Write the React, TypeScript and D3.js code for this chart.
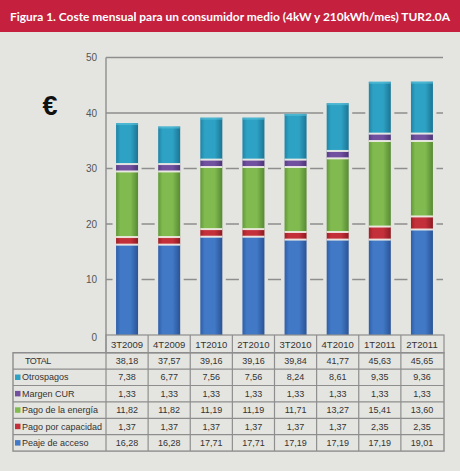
import React from "react";
import * as d3 from "d3";

const categories = ["3T2009", "4T2009", "1T2010", "2T2010", "3T2010", "4T2010", "1T2011", "2T2011"];
const peaje = [16.28, 16.28, 17.71, 17.71, 17.19, 17.19, 17.19, 19.01];
const capacidad = [1.37, 1.37, 1.37, 1.37, 1.37, 1.37, 2.35, 2.35];
const energia = [11.82, 11.82, 11.19, 11.19, 11.71, 13.27, 15.41, 13.6];
const margen = [1.33, 1.33, 1.33, 1.33, 1.33, 1.33, 1.33, 1.33];
const otros = [7.38, 6.77, 7.56, 7.56, 8.24, 8.61, 9.35, 9.36];
const totals = [38.18, 37.57, 39.16, 39.16, 39.84, 41.77, 45.63, 45.65];
const yTicks = [0, 10, 20, 30, 40, 50];

const seriesKeys = ["peaje", "capacidad", "energia", "margen", "otros"];
const seriesNames: Record<string, string> = {
  peaje: "Peaje de acceso",
  capacidad: "Pago por capacidad",
  energia: "Pago de la energía",
  margen: "Margen CUR",
  otros: "Otrospagos",
};
const seriesValues: Record<string, number[]> = { peaje, capacidad, energia, margen, otros };
const colors: Record<string, [string, string, string]> = {
  peaje: ["#2f5ea8", "#4179c6", "#2a5396"],
  capacidad: ["#9e1f26", "#c4303a", "#8e1a21"],
  energia: ["#62993a", "#81bb50", "#578a33"],
  margen: ["#573c85", "#70509f", "#4c3476"],
  otros: ["#1f84a6", "#2ea2c4", "#1b7595"],
};
const tableOrder = ["otros", "margen", "energia", "capacidad", "peaje"];

const BG = "#e4e5e0";
const GRID = "#8e8e8e";

export default function App() {
  const W = 460, H = 471;
  const x = d3.scaleBand<string>().domain(categories).range([106, 443]).padding(0);
  const y = d3.scaleLinear().domain([0, 50]).range([335, 57.5]);
  const barW = 22;

  const rows = categories.map((c, i) => {
    const o: any = { cat: c };
    seriesKeys.forEach((k) => (o[k] = seriesValues[k][i]));
    return o;
  });
  const stacked = d3.stack<any>().keys(seriesKeys)(rows);

  const fmt = (v: number) => d3.format(".2f")(v).replace(".", ",");

  const tableTop = 352.7;
  const rowH = 16.4;
  const tableLeft = 13;
  const tableRight = 444;
  const tableRows = [{ key: "total", label: "TOTAL", vals: totals }].concat(
    tableOrder.map((k) => ({ key: k, label: seriesNames[k], vals: seriesValues[k] }))
  );
  const tableBottom = tableTop + rowH * tableRows.length;
  const font = "'Liberation Sans', Arial, sans-serif";

  return (
    <svg width={W} height={H} style={{ position: "fixed", left: 0, top: 0 }} viewBox={`0 0 ${W} ${H}`}>
      <defs>
        {seriesKeys.map((k) => (
          <linearGradient key={k} id={`g-${k}`} x1="0" x2="1" y1="0" y2="0">
            <stop offset="0%" stopColor={colors[k][0]} />
            <stop offset="20%" stopColor={colors[k][1]} />
            <stop offset="65%" stopColor={colors[k][1]} />
            <stop offset="100%" stopColor={colors[k][2]} />
          </linearGradient>
        ))}
      </defs>
      <rect x={0} y={0} width={W} height={H} fill={BG} />
      <rect x={0} y={0} width={W} height={32} fill="#c5203d" />
      <text
        x={230}
        y={20.5}
        textAnchor="middle"
        fill="#fff"
        fontFamily="Lato, 'Open Sans', sans-serif"
        fontWeight="bold"
        fontSize={11.5}
        textLength={440}
        lengthAdjust="spacingAndGlyphs"
      >
        Figura 1. Coste mensual para un consumidor medio (4kW y 210kWh/mes) TUR2.0A
      </text>

      {/* Euro sign */}
      <text x={50} y={115} textAnchor="middle" fontFamily={font} fontWeight="bold" fontSize={27} fill="#111">
        €
      </text>

      {/* gridlines */}
      {yTicks.filter((t) => t > 0).map((t) => (
        <line key={t} x1={106} x2={443} y1={y(t)} y2={y(t)} stroke={GRID} strokeWidth={1.4} />
      ))}
      <line x1={106} x2={106} y1={y(50)} y2={y(0)} stroke={GRID} strokeWidth={1.4} />
      {yTicks.map((t) => (
        <text
          key={t}
          x={97}
          y={y(t) + (t === 0 ? 2 : 0)}
          textAnchor="end"
          dominantBaseline="central"
          fontFamily={font}
          fontSize={10}
          fill="#555"
        >
          {t}
        </text>
      ))}

      {/* bar halos */}
      {categories.map((c, i) => {
        const cx = (x(c) as number) + x.bandwidth() / 2;
        return (
          <rect
            key={c}
            x={cx - barW / 2 - 3.5}
            y={y(totals[i])}
            width={barW + 7}
            height={y(0) - y(totals[i])}
            fill={BG}
          />
        );
      })}

      {/* bars */}
      {stacked.map((layer) => (
        <g key={layer.key}>
          {layer.map((d, i) => {
            const c = categories[i];
            const cx = (x(c) as number) + x.bandwidth() / 2;
            const y0 = y(d[0]);
            const y1 = y(d[1]);
            return (
              <g key={c}>
                <rect x={cx - barW / 2} y={y1} width={barW} height={y0 - y1} fill={`url(#g-${layer.key})`} />
                {layer.key !== "peaje" && (
                  <rect x={cx - barW / 2} y={y0 - 1} width={barW} height={2} fill="#f2efe9" opacity={0.9} />
                )}
                {layer.key === "otros" && (
                  <rect x={cx - barW / 2} y={y1} width={barW} height={2} fill="#5cc3dc" opacity={0.6} />
                )}
              </g>
            );
          })}
        </g>
      ))}

      {/* category header row */}
      <rect x={106} y={335} width={tableRight - 106} height={tableTop - 335} fill="none" stroke={GRID} strokeWidth={1.2} />
      {categories.map((c) => (
        <text
          key={c}
          x={(x(c) as number) + x.bandwidth() / 2}
          y={344.5}
          textAnchor="middle"
          dominantBaseline="central"
          fontFamily={font}
          fontSize={9.5}
          fill="#333"
        >
          {c}
        </text>
      ))}

      {/* table */}
      <rect
        x={tableLeft}
        y={tableTop}
        width={tableRight - tableLeft}
        height={tableBottom - tableTop}
        fill="none"
        stroke={GRID}
        strokeWidth={1.4}
      />
      {tableRows.map((r, ri) => (
        <line
          key={"h" + ri}
          x1={tableLeft}
          x2={tableRight}
          y1={tableTop + rowH * ri}
          y2={tableTop + rowH * ri}
          stroke={GRID}
          strokeWidth={1.2}
        />
      ))}
      {categories.map((c, i) => (
        <line
          key={"v" + c}
          x1={x(c) as number}
          x2={x(c) as number}
          y1={335}
          y2={tableBottom}
          stroke={GRID}
          strokeWidth={1.2}
        />
      ))}
      {tableRows.map((r, ri) => {
        const cy = tableTop + rowH * ri + rowH / 2;
        return (
          <g key={r.key}>
            {r.key === "total" ? (
              <text x={25} y={cy} dominantBaseline="central" fontFamily={font} fontSize={9} fill="#333" letterSpacing={-0.5}>
                {r.label}
              </text>
            ) : (
              <>
                <rect x={15} y={cy - 2.8} width={5.5} height={5.5} fill={colors[r.key][1]} />
                <text x={22} y={cy} dominantBaseline="central" fontFamily={font} fontSize={9} fill="#333">
                  {r.label}
                </text>
              </>
            )}
            {r.vals.map((v, i) => (
              <text
                key={i}
                x={(x(categories[i]) as number) + x.bandwidth() / 2}
                y={cy}
                textAnchor="middle"
                dominantBaseline="central"
                fontFamily={font}
                fontSize={9}
                fill="#333"
              >
                {fmt(v)}
              </text>
            ))}
          </g>
        );
      })}
    </svg>
  );
}
